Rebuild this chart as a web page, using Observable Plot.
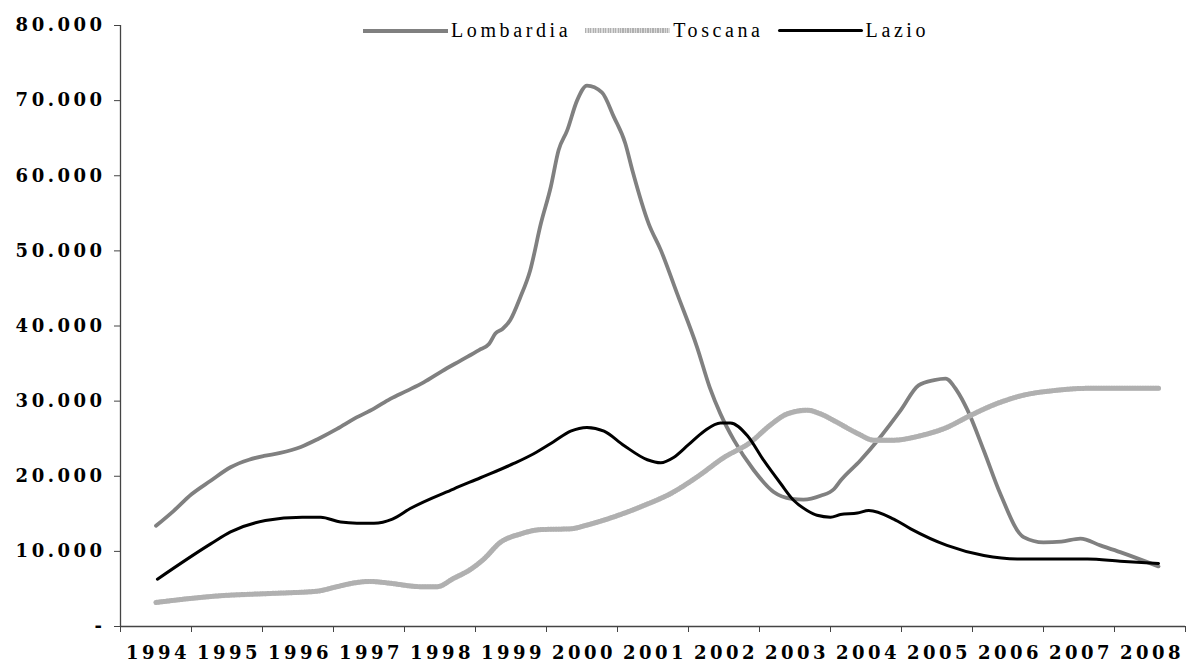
<!DOCTYPE html>
<html>
<head>
<meta charset="utf-8">
<script src="https://cdn.jsdelivr.net/npm/d3@7"></script>
<script src="https://cdn.jsdelivr.net/npm/@observablehq/plot@0.6"></script>
<style>
  body { margin: 0; background: #fff; }
  #wrap { position: relative; width: 1193px; height: 668px; overflow: hidden; }
  #legend { position: absolute; top: 19px; left: 363px; display: flex; align-items: center;
            font-family: "Liberation Serif", serif; font-size: 20px; letter-spacing: 3.6px; color: #000; }
  .item { display: flex; align-items: center; margin-right: 14px; }
  .sw { width: 85px; margin-right: 3px; }
  .sw.lomb { height: 4px; background: #808080; }
  .sw.tosc { height: 5px; background: repeating-linear-gradient(90deg, #b0b0b0 0 1px, #dadada 1px 2.5px); }
  .sw.lazio { height: 3.5px; background: #000; border-radius: 2px; }
</style>
</head>
<body>
<div id="wrap">
  <div id="chart"></div>
  <div id="legend"></div>
</div>
<script>
// ---- data ----
const seriesNames = ["Lombardia", "Toscana", "Lazio"];
const years = [1994,1995,1996,1997,1998,1999,2000,2001,2002,2003,2004,2005,2006,2007,2008];
const yTicks = [0,10000,20000,30000,40000,50000,60000,70000,80000];

const lombT = [1994.5,1994.75,1995.0,1995.27,1995.55,1995.81,1996.02,1996.25,1996.54,1996.79,1997.05,1997.3,1997.57,1997.8,1998.04,1998.27,1998.53,1998.79,1999.05,1999.19,1999.28,1999.38,1999.49,1999.63,1999.77,1999.92,2000.06,2000.17,2000.29,2000.43,2000.57,2000.78,2000.95,2001.11,2001.21,2001.44,2001.61,2001.84,2002.12,2002.3,2002.45,2002.64,2002.92,2003.2,2003.45,2003.62,2003.86,2004.05,2004.14,2004.42,2004.7,2004.99,2005.24,2005.46,2005.62,2005.78,2005.93,2006.16,2006.39,2006.72,2007.0,2007.25,2007.52,2007.8,2008.08,2008.62];
const lombV = [13400,15400,17600,19400,21200,22200,22700,23100,23900,25000,26300,27700,29000,30300,31400,32500,34000,35400,36800,37600,39000,39600,40800,43800,47400,53600,58500,63400,66000,70000,72000,71100,67800,64300,60700,53600,50100,44300,37200,31800,28300,24800,20800,17900,17000,16900,17400,18300,19400,22100,25200,28800,32100,32800,33000,31400,28800,23400,17700,11900,11200,11300,11700,10800,9900,8000];

const toscT = [1994.5,1995.41,1996.11,1996.77,1997.05,1997.29,1997.52,1997.76,1998.23,1998.46,1998.69,1998.93,1999.12,1999.35,1999.63,1999.92,2000.34,2000.57,2000.95,2001.37,2001.75,2002.12,2002.5,2002.87,2003.15,2003.39,2003.67,2003.86,2004.05,2004.38,2004.61,2004.89,2005.27,2005.64,2005.93,2006.35,2006.77,2007.15,2007.62,2008.62];
const toscV = [3200,4100,4400,4700,5300,5800,6000,5800,5300,5300,6400,7600,9000,11200,12300,12900,13000,13500,14600,16100,17700,19900,22500,24500,26800,28300,28800,28300,27400,25700,24800,24800,25400,26500,27900,29700,30900,31400,31700,31700];

const lazioT = [1994.52,1995.27,1995.55,1996.04,1996.56,1996.82,1997.1,1997.33,1997.57,1997.83,1998.08,1998.69,1999.07,1999.54,1999.82,2000.1,2000.34,2000.57,2000.81,2001.09,2001.42,2001.61,2001.79,2002.0,2002.22,2002.45,2002.59,2002.83,2003.06,2003.3,2003.48,2003.67,2003.81,2004.0,2004.14,2004.38,2004.54,2004.89,2005.13,2005.64,2006.16,2006.63,2007.62,2008.08,2008.62];
const lazioV = [6300,11000,12600,14100,14550,14550,13900,13750,13750,14300,15700,18300,19800,21700,23000,24600,26000,26500,26000,24100,22200,21800,22500,24200,26000,27100,27100,25400,22100,19000,16800,15450,14800,14550,14900,15100,15450,14300,13000,10800,9450,9000,9000,8700,8400];

// ---- build tables ----
const toRows = (T, V) => T.map((t, i) => ({t, v: V[i]}));
const lomb = toRows(lombT, lombV);
const tosc = toRows(toscT, toscV);
const lazio = toRows(lazioT, lazioV);

const bounds = years.concat([years[years.length - 1] + 1]);   // band edges
const labelPos = years.map(y => y + 0.5);                      // band centres
const fmtY = d => d === 0 ? "-" : d3.format(",")(d).replace(/,/g, ".");

const axisFont = {fontFamily: "DejaVu Serif", fontWeight: "bold", fontSize: 18};

const chart = Plot.plot({
  width: 1193,
  height: 668,
  marginLeft: 120,
  marginRight: 8,
  marginTop: 25,
  marginBottom: 42,
  style: {background: "#fff", color: "#000", letterSpacing: "3.5px", overflow: "visible"},
  x: {type: "linear", domain: [bounds[0], bounds[bounds.length - 1]], label: null},
  y: {domain: [yTicks[0], yTicks[yTicks.length - 1]], label: null},
  marks: [
    Plot.axisY(yTicks, {tickSize: 6, tickPadding: 9, tickFormat: fmtY, stroke: "#444", label: null, ...axisFont}),
    Plot.ruleX([bounds[0]], {y1: yTicks[0], y2: yTicks[yTicks.length - 1], stroke: "#444", strokeWidth: 1.3}),
    Plot.ruleY([yTicks[0]], {stroke: "#444", strokeWidth: 1.3}),
    Plot.axisX(bounds, {tickSize: 6, tickFormat: () => "", stroke: "#444", label: null}),
    Plot.axisX(labelPos, {tickSize: 0, tickPadding: 20, dx: 2, tickFormat: d => String(Math.floor(d)), label: null, ...axisFont}),
    Plot.line(lomb, {x: "t", y: "v", stroke: "#808080", strokeWidth: 3.8, curve: "monotone-x"}),
    Plot.line(tosc, {x: "t", y: "v", stroke: "#d8d8d8", strokeWidth: 5, curve: "monotone-x"}),
    Plot.line(tosc, {x: "t", y: "v", stroke: "#b0b0b0", strokeWidth: 5, strokeDasharray: "1,1.6", curve: "monotone-x"}),
    Plot.line(lazio, {x: "t", y: "v", stroke: "#000", strokeWidth: 3, curve: "monotone-x"})
  ]
});
document.getElementById("chart").appendChild(chart);

// ---- legend ----
const swClass = ["lomb", "tosc", "lazio"];
const legend = document.getElementById("legend");
seriesNames.forEach((name, i) => {
  const it = document.createElement("div");
  it.className = "item";
  const sw = document.createElement("div");
  sw.className = "sw " + swClass[i];
  const tx = document.createElement("span");
  tx.textContent = name;
  it.appendChild(sw); it.appendChild(tx);
  legend.appendChild(it);
});
</script>
</body>
</html>
